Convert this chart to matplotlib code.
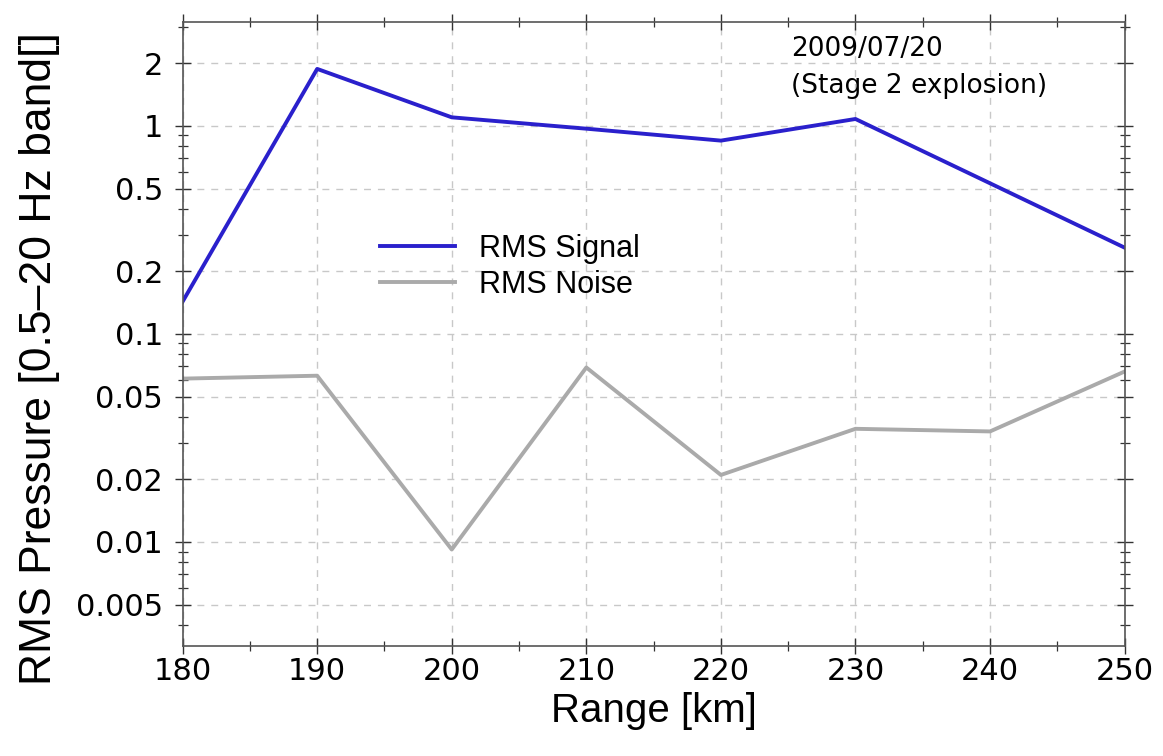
import matplotlib
matplotlib.use("Agg")
import matplotlib.pyplot as plt
from matplotlib.ticker import FixedLocator, FixedFormatter, LogLocator, NullFormatter

# datos
rango_km = [180, 190, 200, 210, 220, 230, 240, 250]
rms_senal = [0.143, 1.88, 1.10, 0.97, 0.85, 1.08, 0.53, 0.26]
rms_ruido = [0.061, 0.063, 0.0092, 0.069, 0.021, 0.035, 0.034, 0.066]

y_ticks = [0.005, 0.01, 0.02, 0.05, 0.1, 0.2, 0.5, 1, 2]
y_labels = ['0.005', '0.01', '0.02', '0.05', '0.1', '0.2', '0.5', '1', '2']
x_ticks = [180, 190, 200, 210, 220, 230, 240, 250]

fig = plt.figure(figsize=(11.63, 7.56), dpi=100)
ax = fig.add_axes([0.157, 0.1455, 0.81, 0.8255])

ax.plot(rango_km, rms_senal, color='#2a20cc', lw=2.8, label='RMS Signal')
ax.plot(rango_km, rms_ruido, color='#aaaaaa', lw=2.8, label='RMS Noise')

ax.set_yscale('log')
ax.set_xlim(180, 250)
ax.set_ylim(10 ** -2.5, 10 ** 0.5)

ax.yaxis.set_major_locator(FixedLocator(y_ticks))
ax.yaxis.set_major_formatter(FixedFormatter(y_labels))
ax.yaxis.set_minor_locator(LogLocator(base=10, subs=[3, 4, 6, 7, 8, 9]))
ax.yaxis.set_minor_formatter(NullFormatter())
ax.set_xticks(x_ticks)
ax.set_xticks([185, 195, 205, 215, 225, 235, 245], minor=True)

for lab in ax.get_xticklabels() + ax.get_yticklabels():
    lab.set_fontfamily('DejaVu Sans')
    lab.set_fontsize(22)

ax.tick_params(which='both', direction='inout', top=True, right=True, colors='#333333')
ax.tick_params(which='major', length=12, width=1.0)
ax.tick_params(axis='y', which='major', pad=8)
ax.tick_params(axis='x', which='major', pad=2)
ax.tick_params(which='minor', length=7, width=0.9)
ax.tick_params(labelcolor='black')
for s in ax.spines.values():
    s.set_color('#555555')
    s.set_linewidth(1.2)

ax.grid(True, which='major', ls=(0, (5, 5)), color='#c8c8c8', lw=1.0)

ax.set_xlabel('Range [km]', fontsize=29, family='Liberation Sans', labelpad=4)
ax.set_ylabel('RMS Pressure [0.5–20 Hz band[]', fontsize=32, family='Liberation Sans')
ax.yaxis.set_label_coords(-0.13, 0.46)

ax.text(225.2, 2.72, '2009/07/20\n(Stage 2 explosion)', fontsize=19, family='DejaVu Sans',
        va='top', ha='left', linespacing=1.55)

ax.legend(loc='upper left', bbox_to_anchor=(0.18, 0.705), frameon=False,
          prop={'family': 'Liberation Sans', 'size': 22}, handlelength=2.45,
          handletextpad=0.8, labelspacing=0.2)

fig.savefig('out.png', dpi=100)
